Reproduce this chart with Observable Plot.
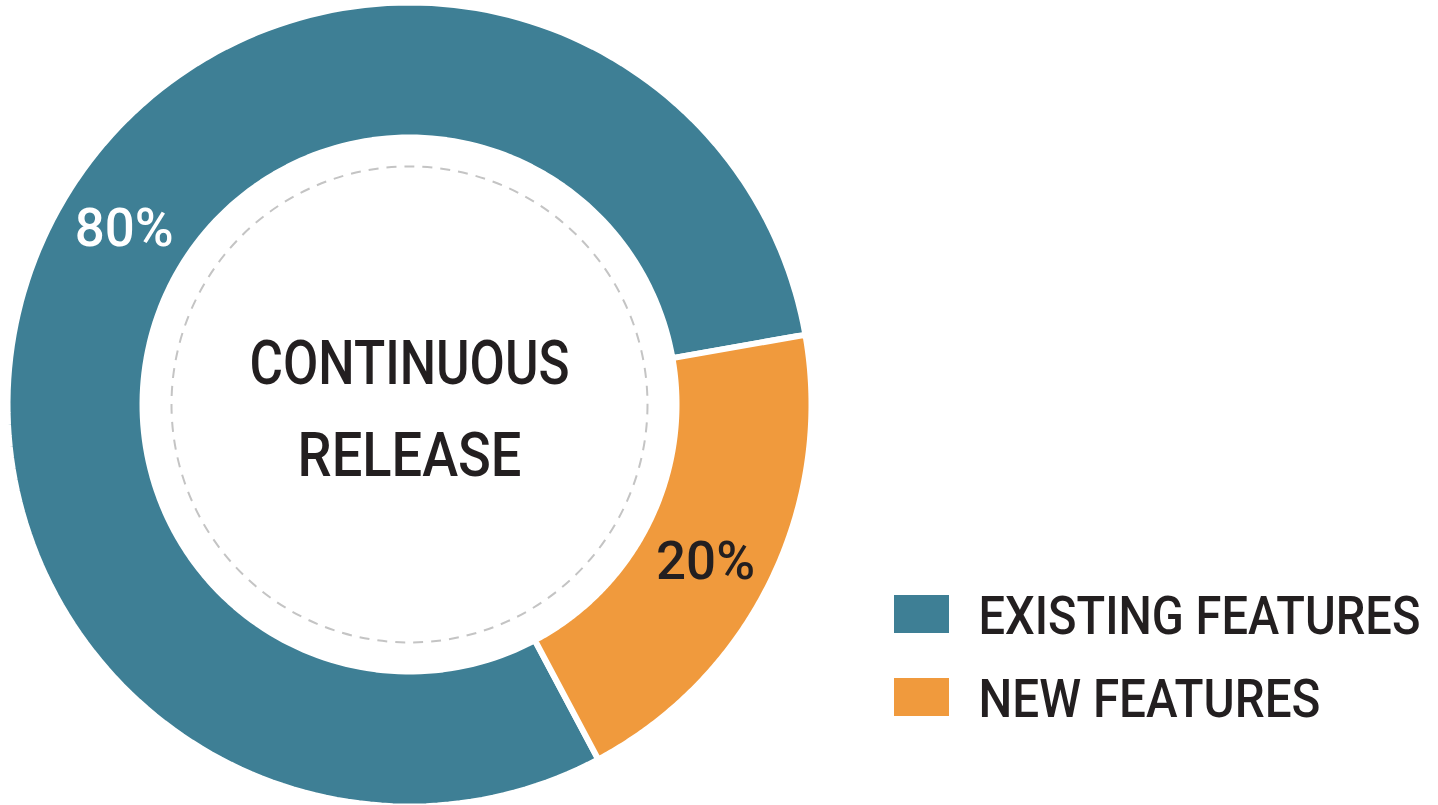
<!DOCTYPE html>
<html>
<head>
<meta charset="utf-8">
<script src="https://cdn.jsdelivr.net/npm/d3@7"></script>
<script src="https://cdn.jsdelivr.net/npm/@observablehq/plot@0.6"></script>
<style>
  html, body { margin: 0; padding: 0; background: #fff; }
  #chart svg { display: block; }
</style>
</head>
<body>
<div id="chart"></div>
<script>
// ---- data ----
const categories = ["EXISTING FEATURES", "NEW FEATURES"];
const shares = [80, 20];
const percentLabels = ["80%", "20%"];
const colors = ["#3e7f95", "#f09a3d"];
const centerLines = ["CONTINUOUS", "RELEASE"];

// ---- layout / style (not data) ----
const W = 1438, H = 805;
const L = {
  cx: 409, cy: 404,
  rOuter: 402, rInner: 267, rDash: 238, rLabel: 335,
  startDeg: 152,
  labelShiftDeg: [5.6, 1.9],
  labelColors: ["#ffffff", "#231f20"],
  labelSize: 54,
  centerSize: 62,
  centerBaseline0: 383, centerGap: 92,
  legX: 894, legW: 55, legY: 595, legH: 38, legStep: 83,
  legTextX: 978, legSize: 54,
  ink: "#231f20",
  widths: {"CONTINUOUS": 320, "RELEASE": 224, "80%": 99, "20%": 99,
           "EXISTING FEATURES": 442, "NEW FEATURES": 342}
};
const rad = d => d * Math.PI / 180;

const arcs = d3.pie().sort(null)
  .startAngle(rad(L.startDeg)).endAngle(rad(L.startDeg) + 2 * Math.PI)(shares);

// polygon outline of each ring slice
const ring = [];
arcs.forEach((a, i) => {
  const n = 180;
  const pts = [];
  for (let k = 0; k <= n; k++) {
    const t = a.startAngle + (a.endAngle - a.startAngle) * k / n;
    pts.push([L.rOuter, t]);
  }
  for (let k = n; k >= 0; k--) {
    const t = a.startAngle + (a.endAngle - a.startAngle) * k / n;
    pts.push([L.rInner, t]);
  }
  pts.push(pts[0]);
  pts.forEach(([r, t]) => ring.push({
    cat: categories[i],
    x: L.cx + r * Math.sin(t),
    y: L.cy - r * Math.cos(t)
  }));
});

const labels = arcs.map((a, i) => {
  const t = (a.startAngle + a.endAngle) / 2 + rad(L.labelShiftDeg[i]);
  return {
    text: percentLabels[i],
    color: L.labelColors[i],
    x: L.cx + L.rLabel * Math.sin(t),
    y: L.cy - L.rLabel * Math.cos(t)
  };
});

const plot = Plot.plot({
  width: W, height: H,
  margin: 0,
  x: {domain: [0, W], range: [0, W], axis: null},
  y: {domain: [0, H], range: [0, H], axis: null},
  color: {domain: categories, range: colors},
  style: {fontFamily: "Roboto, 'Open Sans', sans-serif", background: "#fff"},
  marks: [
    Plot.line(ring, {x: "x", y: "y", z: "cat", fill: "cat", stroke: "#fff", strokeWidth: 6, curve: "linear"}),
    Plot.dot([{x: L.cx, y: L.cy}], {x: "x", y: "y", r: L.rDash, fill: "none", stroke: "#c4c4c4", strokeWidth: 2, strokeDasharray: "10,8"}),
    Plot.text(labels, {x: "x", y: "y", text: "text", fill: d => d.color, fontSize: L.labelSize, fontWeight: 500, lineAnchor: "middle", textAnchor: "middle"}),
    Plot.text(centerLines, {x: () => L.cx, y: (d, i) => L.centerBaseline0 + i * L.centerGap, text: d => d, fill: L.ink, fontSize: L.centerSize, fontWeight: 500, lineAnchor: "bottom", textAnchor: "middle"}),
    Plot.rect(categories, {x1: () => L.legX, x2: () => L.legX + L.legW, y1: (d, i) => L.legY + i * L.legStep, y2: (d, i) => L.legY + i * L.legStep + L.legH, fill: d => d}),
    Plot.text(categories, {x: () => L.legTextX, y: (d, i) => L.legY + L.legH + i * L.legStep, text: d => d, fill: L.ink, fontSize: L.legSize, fontWeight: 500, lineAnchor: "bottom", textAnchor: "start"})
  ]
});

document.getElementById("chart").appendChild(plot);

// condense text horizontally (scale about its anchor) to mimic the narrow DIN-style face
d3.select(plot).selectAll("text").each(function () {
  const s = this.textContent;
  const target = L.widths[s];
  if (!target) return;
  const w = this.getComputedTextLength();
  if (!w) return;
  const k = Math.min(1, target / w);
  const tr = this.getAttribute("transform") || "";
  this.setAttribute("transform", `${tr} scale(${k.toFixed(4)},1)`);
});
</script>
</body>
</html>
